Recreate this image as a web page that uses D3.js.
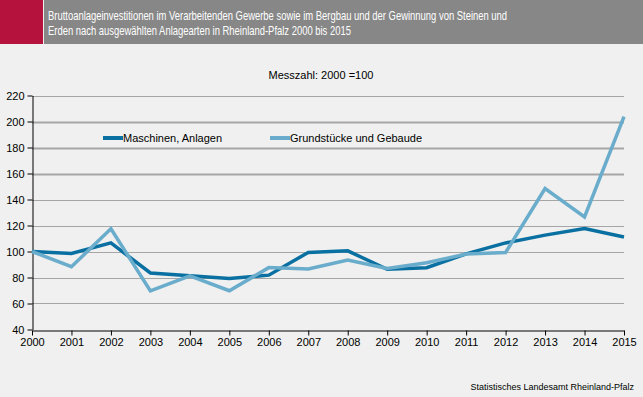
<!DOCTYPE html>
<html>
<head>
<meta charset="utf-8">
<script src="https://cdn.jsdelivr.net/npm/d3@7"></script>
<style>
  body { margin: 0; background: #eff0ef; }
  svg { display: block; font-family: "Liberation Sans", Arial, sans-serif; }
</style>
</head>
<body>
<div id="chart"></div>
<script>
// data
var years = [2000, 2001, 2002, 2003, 2004, 2005, 2006, 2007, 2008, 2009, 2010, 2011, 2012, 2013, 2014, 2015];
var maschinen = [100, 98.5, 106.6, 83.5, 81.3, 79.3, 81.8, 99.3, 100.5, 86.3, 87.5, 98.2, 106.6, 112.6, 117.7, 111.2];
var grundstuecke = [100, 88.3, 117.5, 69.7, 81.2, 69.8, 87.6, 86.5, 93.5, 87, 91.3, 98, 99.2, 148.4, 126.6, 203.8];
var yTicks = [40, 60, 80, 100, 120, 140, 160, 180, 200, 220];
var seriesNames = ['Maschinen, Anlagen', 'Grundstücke und Gebaude'];
var titleLines = [
  'Bruttoanlageinvestitionen im Verarbeitenden Gewerbe sowie im Bergbau und der Gewinnung von Steinen und',
  'Erden nach ausgewählten Anlagearten in Rheinland-Pfalz 2000 bis 2015'
];

var width = 643, height = 397;
var colors = ['#0a70a2', '#6aaccb'];

var svg = d3.select('#chart').append('svg')
    .attr('width', width)
    .attr('height', height);

svg.append('rect').attr('width', width).attr('height', height).attr('fill', '#eff0ef');

// header band
svg.append('rect').attr('x', 0).attr('y', 0).attr('width', 43).attr('height', 44).attr('fill', '#b5123e');
svg.append('rect').attr('x', 44).attr('y', 0).attr('width', width - 44).attr('height', 44).attr('fill', '#878787');

// title is a condensed face in the original; squeeze it horizontally
var squeeze = 0.755;
titleLines.forEach(function(t, i) {
  svg.append('text')
      .attr('transform', 'translate(48,' + (20 + i * 15) + ') scale(' + squeeze + ',1)')
      .attr('fill', '#fff')
      .style('font-size', '12.5px')
      .text(t);
});

svg.append('text')
    .attr('x', 321).attr('y', 79)
    .attr('text-anchor', 'middle')
    .style('font-size', '11px')
    .attr('fill', '#000')
    .text('Messzahl: 2000 =100');

var x = d3.scaleLinear().domain([2000, 2015]).range([32, 624]);
var y = d3.scaleLinear().domain([40, 220]).range([329.5, 95.5]);

// gridlines (200, 180, 160 are drawn heavier in the original)
svg.append('g').selectAll('line')
    .data(yTicks.filter(function(d) { return d !== 40; }))
    .enter().append('line')
    .attr('x1', 32).attr('x2', 624)
    .attr('y1', function(d) { return Math.round(y(d)) + 0.5; })
    .attr('y2', function(d) { return Math.round(y(d)) + 0.5; })
    .attr('stroke', '#a6a6a6')
    .attr('stroke-width', function(d) { return (d >= 160 && d <= 200) ? 2 : 1; });

var yAxis = svg.append('g')
    .attr('transform', 'translate(32.5,0)')
    .call(d3.axisLeft(y).tickValues(yTicks).tickSize(5).tickSizeOuter(0));
var xAxis = svg.append('g')
    .attr('transform', 'translate(0,' + (Math.round(y(40)) + 0.5) + ')')
    .call(d3.axisBottom(x).tickValues(years).tickFormat(d3.format('d')).tickSize(5).tickSizeOuter(0));

[yAxis, xAxis].forEach(function(a) {
  a.selectAll('path, line').attr('stroke', '#000');
  a.selectAll('text').attr('fill', '#000').style('font-size', '11px')
    .style('font-family', '"Liberation Sans", Arial, sans-serif');
});
yAxis.selectAll('text').attr('x', -8);
xAxis.selectAll('text').attr('y', 8);

var line = d3.line()
    .x(function(d, i) { return x(years[i]); })
    .y(function(d) { return y(d); });

[maschinen, grundstuecke].forEach(function(s, i) {
  svg.append('path')
      .datum(s)
      .attr('d', line)
      .attr('fill', 'none')
      .attr('stroke', colors[i])
      .attr('stroke-width', 3.5)
      .attr('stroke-linejoin', 'miter');
});

// legend
var legendX = [103, 270];
seriesNames.forEach(function(name, i) {
  var g = svg.append('g').attr('transform', 'translate(' + legendX[i] + ',138)');
  g.append('line').attr('x1', 0).attr('x2', 20).attr('y1', 0).attr('y2', 0)
      .attr('stroke', colors[i]).attr('stroke-width', 4);
  g.append('text').attr('x', 20).attr('y', 4)
      .style('font-size', '11px').attr('fill', '#000').text(name);
});

svg.append('text')
    .attr('x', 634).attr('y', 390)
    .attr('text-anchor', 'end')
    .style('font-size', '9px')
    .attr('fill', '#000')
    .text('Statistisches Landesamt Rheinland-Pfalz');
</script>
</body>
</html>
